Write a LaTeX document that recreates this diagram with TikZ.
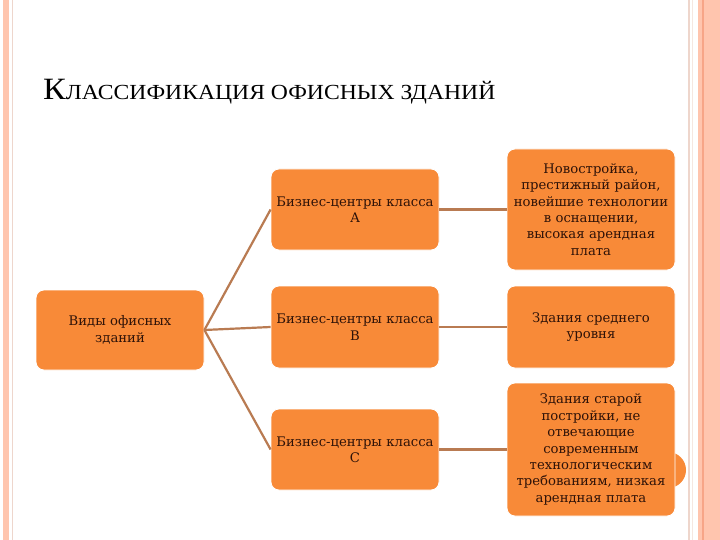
\documentclass[tikz,border=0pt]{standalone}
\usepackage{fontspec}
\setmainfont{DejaVu Serif}
\newfontfamily\titlefont{Liberation Serif}
\definecolor{boxfill}{HTML}{F88A38}
\definecolor{linkcol}{HTML}{B97B52}
\definecolor{txtcol}{HTML}{2E1208}
\definecolor{bandcol}{HTML}{FFC5AE}
\definecolor{banddark}{HTML}{F7A587}
\definecolor{faintcol}{HTML}{EED6CC}
\tikzset{
  card/.style={draw=white, line width=0.8pt, fill=boxfill, rounded corners=8pt, minimum width=166pt, inner sep=1pt, align=center, text=txtcol, font=\fontsize{13.2}{16.4}\selectfont, text width=166pt},
  link/.style={draw=linkcol, line width=2.2pt}
}
\begin{document}
\begin{tikzpicture}[x=1pt,y=-1pt]
\useasboundingbox (0,0) rectangle (720,540);
\fill[white] (0,0) rectangle (720,540);
% slide frame
\fill[bandcol] (3,0) rectangle (9,540);
\fill[faintcol] (12,0) rectangle (13,540);
\fill[faintcol] (688,0) rectangle (690,540);
\fill[faintcol!60] (692,0) rectangle (693,540);
\fill[bandcol] (698,0) rectangle (720,540);
\fill[banddark] (702,0) rectangle (704,540);
\fill[boxfill] (668,470) circle (18);
% title
\node[anchor=base west, inner sep=0, text=black] (title) at (43,100)
  {\titlefont\scalebox{1.1}[1]{{\fontsize{31}{31}\selectfont К}{\fontsize{21.5}{22}\selectfont ЛАССИФИКАЦИЯ ОФИСНЫХ ЗДАНИЙ}}};
% boxes
\node[card, minimum height=80pt] (root) at (120,330) {Виды офисных\\зданий};
\node[card, minimum height=81pt] (ma) at (355,209.5) {Бизнес-центры класса\\А};
\node[card, minimum height=82pt] (mb) at (355,327) {Бизнес-центры класса\\В};
\node[card, minimum height=81pt] (mc) at (355,449.5) {Бизнес-центры класса\\С};
\node[card, minimum height=121pt] (ra) at (591,209.5) {Новостройка,\\престижный район,\\новейшие технологии\\в оснащении,\\высокая арендная\\плата};
\node[card, minimum height=82pt] (rb) at (591,327) {Здания среднего\\уровня};
\node[card, minimum height=133pt] (rc) at (591,449.5) {Здания старой\\постройки, не\\отвечающие\\современным\\технологическим\\требованиям, низкая\\арендная плата};
% connectors
\draw[link] (root.east) -- (ma.west);
\draw[link] (root.east) -- (mb.west);
\draw[link] (root.east) -- (mc.west);
\draw[link] (ma.east) -- (ra.west);
\draw[link] (mb.east) -- (rb.west);
\draw[link] (mc.east) -- (rc.west);
\end{tikzpicture}
\end{document}
